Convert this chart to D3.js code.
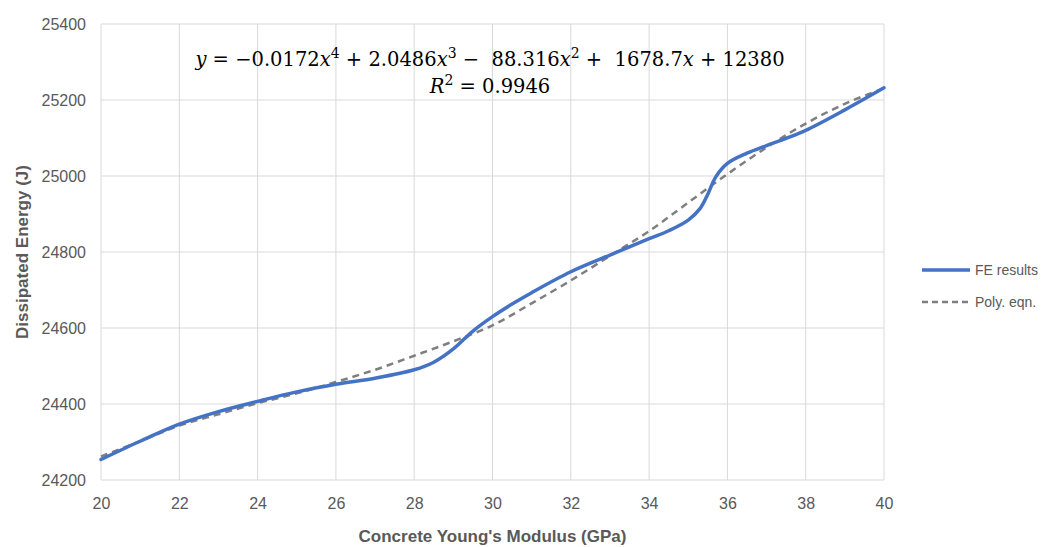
<!DOCTYPE html>
<html>
<head>
<meta charset="utf-8">
<script src="https://cdn.jsdelivr.net/npm/d3@7"></script>
<style>
  body { margin: 0; background: #fff; }
</style>
</head>
<body>
<div id="app"></div>
<script>
// FE results
const feX = [20, 21, 22, 23, 24, 25, 26, 27, 28, 28.5, 29, 29.5, 30, 30.5, 31, 32, 33, 34, 34.5, 35, 35.3, 35.5, 35.7, 36, 36.5, 37, 37.5, 38, 39, 40];
const feY = [24254, 24302, 24347, 24380, 24407, 24432, 24452, 24468, 24490, 24510, 24545, 24592, 24630, 24663, 24693, 24748, 24792, 24835, 24856, 24884, 24914, 24952, 24997, 25033, 25060, 25080, 25099, 25120, 25174, 25232];
// Poly. eqn. trendline
const polyX = [20, 21, 22, 23, 24, 25, 26, 27, 28, 29, 30, 31, 32, 33, 34, 35, 36, 37, 38, 39, 40];
const polyY = [24262, 24302, 24343, 24373, 24402, 24428, 24458, 24490, 24527, 24565, 24607, 24665, 24725, 24790, 24855, 24930, 25005, 25075, 25138, 25190, 25231];

const xTicks = [20, 22, 24, 26, 28, 30, 32, 34, 36, 38, 40];
const yTicks = [24200, 24400, 24600, 24800, 25000, 25200, 25400];

const width = 1051, height = 547;
const margin = { left: 101, right: 167, top: 24, bottom: 67 };
const sans = '"Liberation Sans", Arial, sans-serif';
const serif = '"DejaVu Serif", "Liberation Serif", serif';

const svg = d3.select('#app').append('svg').attr('width', width).attr('height', height)
    .style('font-family', sans);

const x = d3.scaleLinear().domain([20, 40]).range([margin.left, width - margin.right]);
const y = d3.scaleLinear().domain([24200, 25400]).range([height - margin.bottom, margin.top]);

// gridlines
svg.append('g').selectAll('line').data(yTicks).enter().append('line')
    .attr('x1', x(20)).attr('x2', x(40))
    .attr('y1', d => y(d)).attr('y2', d => y(d))
    .attr('stroke', '#d9d9d9').attr('stroke-width', 1);
svg.append('g').selectAll('line').data(xTicks).enter().append('line')
    .attr('x1', d => x(d)).attr('x2', d => x(d))
    .attr('y1', y(24200)).attr('y2', y(25400))
    .attr('stroke', '#d9d9d9').attr('stroke-width', 1);

// axes (labels only)
const yAxis = svg.append('g').attr('transform', `translate(${x(20) - 15},0)`)
    .call(d3.axisLeft(y).tickValues(yTicks).tickSize(0).tickPadding(0).tickFormat(d3.format('d')));
const xAxis = svg.append('g').attr('transform', `translate(0,${y(24200) + 10})`)
    .call(d3.axisBottom(x).tickValues(xTicks).tickSize(0).tickPadding(8));
[yAxis, xAxis].forEach(a => {
    a.select('.domain').remove();
    a.selectAll('text').attr('fill', '#595959').style('font-size', '16px')
        .style('font-family', sans);
});

// axis titles
svg.append('text').attr('x', (x(20) + x(40)) / 2).attr('y', 542)
    .attr('text-anchor', 'middle').attr('fill', '#595959')
    .style('font-size', '17px').style('font-weight', 'bold')
    .text("Concrete Young's Modulus (GPa)");
svg.append('text').attr('transform', `translate(28,${(y(24200) + y(25400)) / 2}) rotate(-90)`)
    .attr('text-anchor', 'middle').attr('fill', '#595959')
    .style('font-size', '17px').style('font-weight', 'bold')
    .text('Dissipated Energy (J)');

// lines
const fe = feX.map((d, i) => [d, feY[i]]);
const poly = polyX.map((d, i) => [d, polyY[i]]);
const line = d3.line().x(d => x(d[0])).y(d => y(d[1])).curve(d3.curveCatmullRom.alpha(0.5));

svg.append('path').datum(poly).attr('d', line)
    .attr('fill', 'none').attr('stroke', '#7f7f7f').attr('stroke-width', 2.5)
    .attr('stroke-dasharray', '7,5');
svg.append('path').datum(fe).attr('d', line)
    .attr('fill', 'none').attr('stroke', '#4472c4').attr('stroke-width', 3.5)
    .attr('stroke-linecap', 'round');

// equation
const eqParts = [['y', 'v'], [' = −0.0172', 'n'], ['x', 'v'], ['4', 's'], [' + 2.0486', 'n'], ['x', 'v'], ['3', 's'],
    [' −  88.316', 'n'], ['x', 'v'], ['2', 's'], [' +  1678.7', 'n'], ['x', 'v'], [' + 12380', 'n']];
const eq1 = svg.append('text').attr('x', 490).attr('y', 66).attr('text-anchor', 'middle')
    .style('font-family', serif).style('font-size', '19.5px').style('white-space', 'pre').attr('fill', '#000');
let prevSup = false;
eqParts.forEach(p => {
    const t = eq1.append('tspan').text(p[0]);
    if (p[1] === 'v') t.style('font-style', 'italic');
    if (p[1] === 's') t.attr('dy', -8).style('font-size', '14px');
    else if (prevSup) t.attr('dy', 8);
    prevSup = p[1] === 's';
});
const eq2 = svg.append('text').attr('x', 490).attr('y', 93).attr('text-anchor', 'middle')
    .style('font-family', serif).style('font-size', '19.5px').attr('fill', '#000');
eq2.append('tspan').text('R').style('font-style', 'italic');
eq2.append('tspan').text('2').attr('dy', -8).style('font-size', '14px');
eq2.append('tspan').text(' = 0.9946').attr('dy', 8);

// legend
const legend = svg.append('g').attr('transform', 'translate(922,270)');
legend.append('line').attr('x1', 0).attr('x2', 48).attr('y1', 0).attr('y2', 0)
    .attr('stroke', '#4472c4').attr('stroke-width', 3.5);
legend.append('text').attr('x', 53).attr('y', 5).attr('fill', '#595959').style('font-size', '14px').text('FE results');
legend.append('line').attr('x1', 0).attr('x2', 48).attr('y1', 32).attr('y2', 32)
    .attr('stroke', '#7f7f7f').attr('stroke-width', 2.5).attr('stroke-dasharray', '6,4');
legend.append('text').attr('x', 53).attr('y', 37).attr('fill', '#595959').style('font-size', '14px').text('Poly. eqn.');
</script>
</body>
</html>
